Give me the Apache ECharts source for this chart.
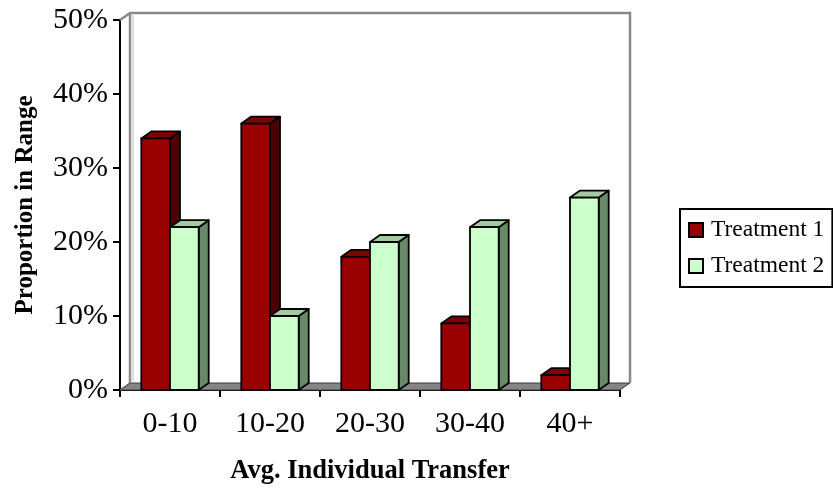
<!DOCTYPE html>
<html>
<head>
<meta charset="utf-8">
<script src="https://cdn.jsdelivr.net/npm/echarts@6/dist/echarts.min.js"></script>
<style>
  html, body { margin: 0; padding: 0; background: #ffffff; }
  #chart { width: 833px; height: 490px; }
</style>
</head>
<body>
<div id="chart"></div>
<script>
// Share of individuals by average transfer range, per treatment (percent)
const categories = ['0-10', '10-20', '20-30', '30-40', '40+'];
const treatment1 = [34, 36, 18, 9, 2];
const treatment2 = [22, 10, 20, 22, 26];
const seriesNames = ['Treatment 1', 'Treatment 2'];
const yTicks = [0, 10, 20, 30, 40, 50];

// Styling for the pseudo-3D look
const FONT = "'Liberation Serif', 'Times New Roman', serif";
const DEPTH_X = 10;         // receding offset, px
const DEPTH_Y = 7;
const BAR_FRACTION = 0.287; // width of one bar relative to its category band
const OUTLINE = 1.8;
const palette = [
  { front: '#990000', top: '#800000', side: '#4a0000' },
  { front: '#ccffcc', top: '#a2cba2', side: '#688a68' }
];

function barRenderer(seriesIdx) {
  const col = palette[seriesIdx];
  return function (params, api) {
    const cat = api.value(0);
    const val = api.value(1);
    const top = api.coord([cat, val]);
    const base = api.coord([cat, 0]);
    const band = api.size([1, 0])[0];
    const w = band * BAR_FRACTION;
    const x0 = seriesIdx === 0 ? top[0] - w : top[0];
    const x1 = x0 + w;
    const yT = top[1];
    const yB = base[1];
    const stroke = { stroke: '#000000', lineWidth: OUTLINE, lineJoin: 'round' };
    return {
      type: 'group',
      children: [
        {
          type: 'polygon',
          shape: { points: [[x1, yT], [x1 + DEPTH_X, yT - DEPTH_Y], [x1 + DEPTH_X, yB - DEPTH_Y], [x1, yB]] },
          style: Object.assign({ fill: col.side }, stroke)
        },
        {
          type: 'polygon',
          shape: { points: [[x0, yT], [x0 + DEPTH_X, yT - DEPTH_Y], [x1 + DEPTH_X, yT - DEPTH_Y], [x1, yT]] },
          style: Object.assign({ fill: col.top }, stroke)
        },
        {
          type: 'rect',
          shape: { x: x0, y: yT, width: w, height: yB - yT },
          style: Object.assign({ fill: col.front }, stroke)
        }
      ]
    };
  };
}

// Back wall outline and floor slab of the plot box
function wallRenderer(params) {
  const cs = params.coordSys;
  const xl = cs.x, xr = cs.x + cs.width;
  const yt = cs.y, yb = cs.y + cs.height;
  const wall = { stroke: '#8a8a8a', lineWidth: 2.5, fill: null };
  return {
    type: 'group',
    children: [
      {
        type: 'polygon',
        shape: { points: [[xl, yb], [xl + DEPTH_X, yb - DEPTH_Y], [xr + DEPTH_X, yb - DEPTH_Y], [xr, yb]] },
        style: { fill: '#858585', stroke: '#3a3a3a', lineWidth: 1 }
      },
      {
        type: 'polyline',
        shape: { points: [[xl, yt], [xl + DEPTH_X, yt - DEPTH_Y], [xr + DEPTH_X, yt - DEPTH_Y], [xr + DEPTH_X, yb - DEPTH_Y]] },
        style: wall
      },
      {
        type: 'line',
        shape: { x1: xl + DEPTH_X, y1: yt - DEPTH_Y, x2: xl + DEPTH_X, y2: yb - DEPTH_Y },
        style: wall
      },
      {
        type: 'line',
        shape: { x1: xl + DEPTH_X + 3, y1: yt - DEPTH_Y + 2, x2: xl + DEPTH_X + 3, y2: yb - DEPTH_Y - 2 },
        style: { stroke: '#d0d0d0', lineWidth: 1.5 }
      },
      {
        type: 'line',
        shape: { x1: xl, y1: yb, x2: xl + DEPTH_X, y2: yb - DEPTH_Y },
        style: { stroke: '#6a6a6a', lineWidth: 1.5 }
      }
    ]
  };
}

const chart = echarts.init(document.getElementById('chart'), null, { renderer: 'canvas' });

chart.setOption({
  animation: false,
  backgroundColor: '#ffffff',
  textStyle: { fontFamily: FONT, color: '#000000' },
  grid: { left: 120, right: 213, top: 20, bottom: 99, containLabel: false },
  legend: {
    orient: 'vertical',
    left: 680,
    top: 209,
    data: seriesNames,
    icon: 'rect',
    itemWidth: 14,
    itemHeight: 14,
    itemGap: 12,
    padding: [9, 8, 9, 8],
    borderColor: '#000000',
    borderWidth: 2,
    selectedMode: false,
    textStyle: { fontFamily: FONT, fontSize: 23.5, lineHeight: 23, color: '#000000', padding: [0, 0, 0, 3] }
  },
  xAxis: {
    type: 'category',
    data: categories,
    boundaryGap: true,
    name: 'Avg. Individual Transfer',
    nameLocation: 'middle',
    nameGap: 68,
    nameTextStyle: { fontFamily: FONT, fontSize: 26.5, fontWeight: 'bold', color: '#000000' },
    axisLine: { show: true, lineStyle: { color: '#000000', width: 2 } },
    axisTick: { show: true, length: 7, lineStyle: { color: '#000000', width: 2 } },
    axisLabel: { fontFamily: FONT, fontSize: 30, color: '#000000', margin: 19 },
    splitLine: { show: false }
  },
  yAxis: {
    type: 'value',
    min: yTicks[0],
    max: yTicks[yTicks.length - 1],
    interval: 10,
    name: 'Proportion in Range',
    nameLocation: 'middle',
    nameGap: 82,
    nameTextStyle: { fontFamily: FONT, fontSize: 25, fontWeight: 'bold', color: '#000000' },
    axisLine: { show: true, lineStyle: { color: '#000000', width: 2 } },
    axisTick: { show: true, length: 7, lineStyle: { color: '#000000', width: 2 } },
    axisLabel: { fontFamily: FONT, fontSize: 30, color: '#000000', margin: 12, formatter: '{value}%' },
    splitLine: { show: false }
  },
  series: [
    {
      name: 'wall',
      type: 'custom',
      silent: true,
      z: 1,
      renderItem: wallRenderer,
      data: [[0, 0]]
    },
    {
      name: seriesNames[0],
      type: 'custom',
      z: 2,
      itemStyle: { color: palette[0].front, borderColor: '#000000', borderWidth: 1.5 },
      encode: { x: 0, y: 1 },
      renderItem: barRenderer(0),
      data: treatment1.map((v, i) => [i, v])
    },
    {
      name: seriesNames[1],
      type: 'custom',
      z: 3,
      itemStyle: { color: palette[1].front, borderColor: '#000000', borderWidth: 1.5 },
      encode: { x: 0, y: 1 },
      renderItem: barRenderer(1),
      data: treatment2.map((v, i) => [i, v])
    }
  ]
});
</script>
</body>
</html>
